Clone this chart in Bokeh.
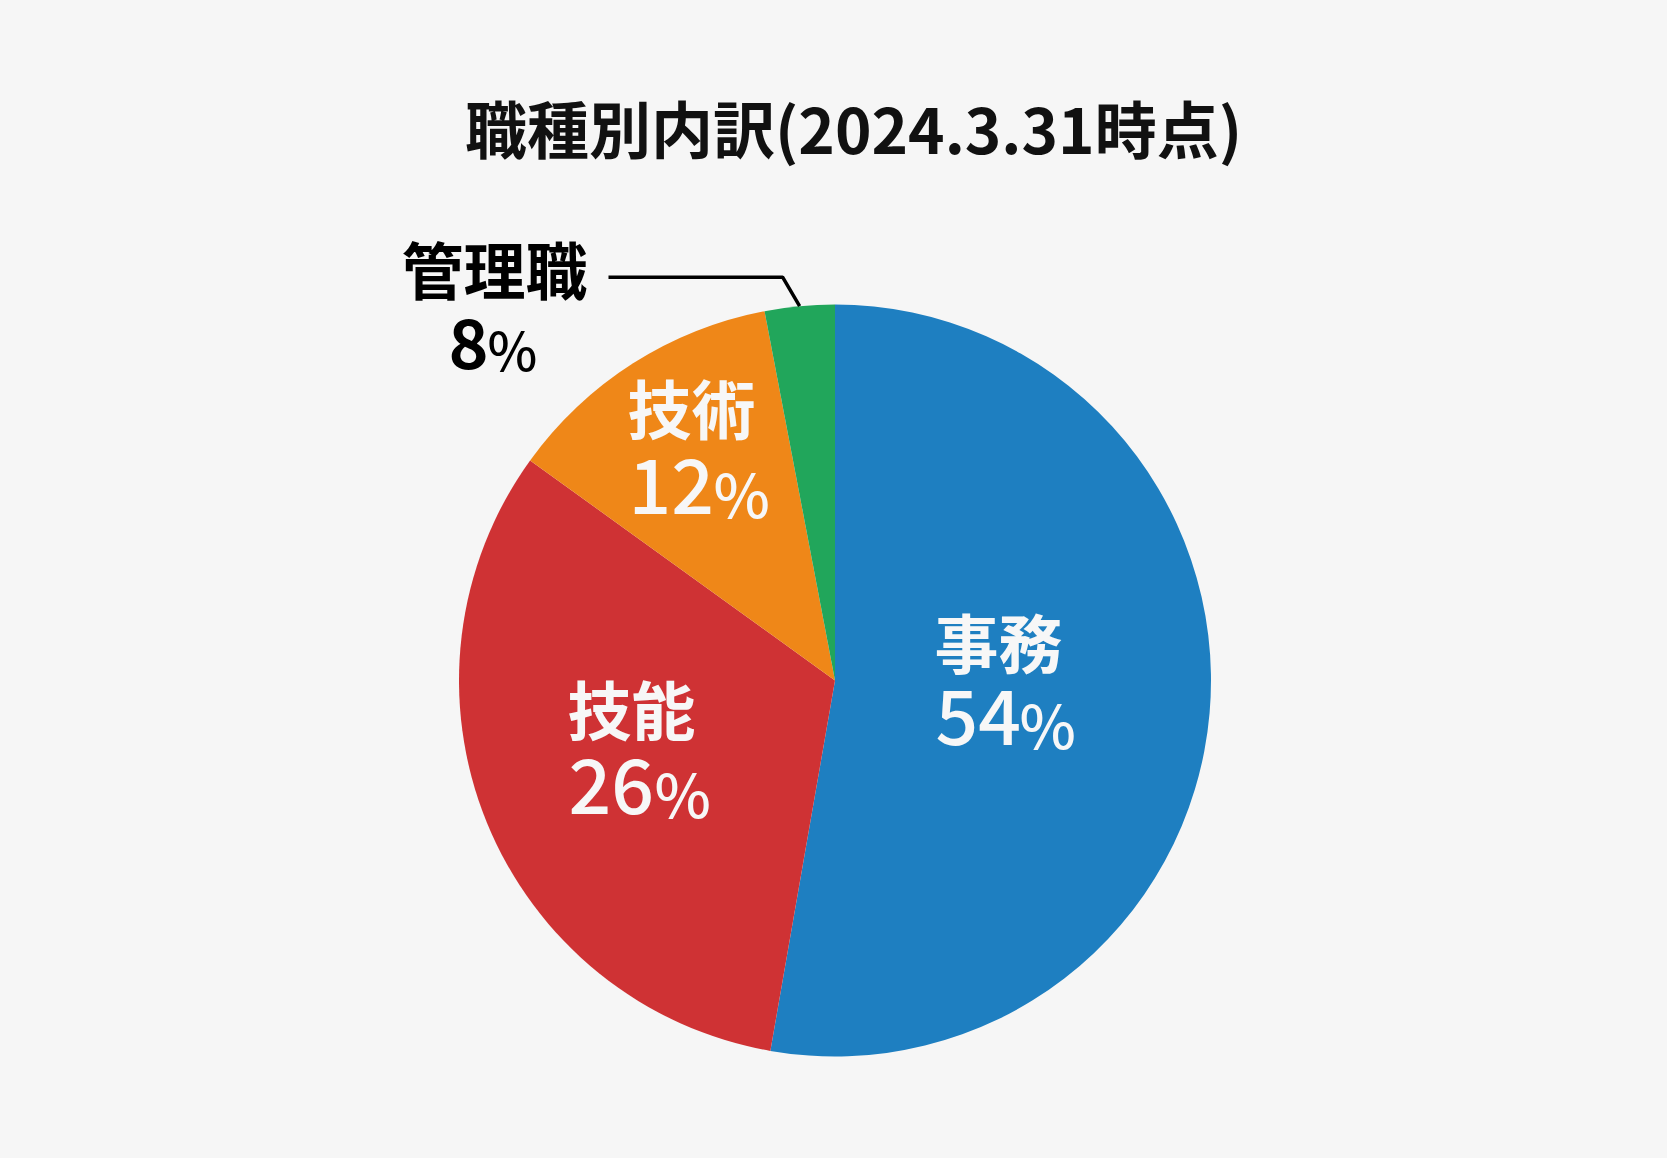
from math import pi, cos, sin

from bokeh.plotting import figure
from bokeh.models import ColumnDataSource, Range1d
from bokeh.core.properties import value
from bokeh.embed import file_html
from bokeh.resources import INLINE

# slice shares as drawn in the picture (the printed labels differ a bit)
categories = ["事務", "技能", "技術", "管理職"]
shares = [52.75, 32.2, 12.05, 3.0]
pct_numbers = ["54", "26", "12", "8"]
colors = ["#1e7fc1", "#cf3234", "#ef8718", "#21a65b"]
title_text = "職種別内訳(2024.3.31時点)"

BG = "#f6f6f6"
FONT = "Noto Sans CJK JP"
NUM_FONT = "Noto Sans CJK JP Medium"

# data units == screen pixels, y pointing up (y = -screen_y)
cx, cy, r = 834.5, -680, 376

start, end = [], []
acc = 0.0
for s in shares:
    start.append(pi / 2 - 2 * pi * acc / 100)
    acc += s
    end.append(pi / 2 - 2 * pi * acc / 100)

src = ColumnDataSource(dict(cat=categories, start=start, end=end, color=colors))

p = figure(width=1651, height=1142, output_backend="svg", toolbar_location=None,
           x_range=Range1d(0, 1651), y_range=Range1d(-1142, 0),
           x_axis_type=None, y_axis_type=None, min_border=0,
           background_fill_color=BG, border_fill_color=BG)
p.grid.visible = False
p.outline_line_color = None

p.wedge(x=cx, y=cy, radius=r, start_angle="start", end_angle="end",
        direction="clock", fill_color="color", line_color=None, source=src)

# title
p.text(x=[853], y=[-126], text=[title_text], text_font=value(FONT), text_font_style="bold",
       text_font_size="62px", text_color="#111111", text_align="center", text_baseline="middle")

# labels inside the slices: (left x, cjk centre y, number centre y, % left x)
inside = {
    "事務": (934, -639, -717, 1019),
    "技能": (567, -706, -786, 654),
    "技術": (627, -405, -486, 713),
}
for i, cat in enumerate(categories[:3]):
    lx, ly, ny, px = inside[cat]
    p.text(x=[lx], y=[ly], text=[cat], text_font=value(FONT), text_font_style="bold",
           text_font_size="64px", text_color="#f7f7f7", text_align="left", text_baseline="middle")
    p.text(x=[lx + 1], y=[ny], text=[pct_numbers[i]], text_font=value(NUM_FONT),
           text_font_size="75px", text_color="#f7f7f7", text_align="left", text_baseline="middle")
    p.text(x=[px], y=[ny - 5], text=["%"], text_font=value(NUM_FONT),
           text_font_size="60px", text_color="#f7f7f7", text_align="left", text_baseline="middle")

# 管理職: outside label with a leader line to the green slice
mid = (start[3] + end[3]) / 2
ex, ey = cx + r * cos(mid), cy + r * sin(mid)
p.line(x=[608, ex - 17, ex], y=[ey + 29, ey + 29, ey], line_color="#000000", line_width=3.5)

p.text(x=[494], y=[-267], text=[categories[3]], text_font=value(FONT), text_font_style="bold",
       text_font_size="62px", text_color="#000000", text_align="center", text_baseline="middle")
p.text(x=[488], y=[-343], text=[pct_numbers[3]], text_font=value(FONT), text_font_style="bold",
       text_font_size="68px", text_color="#000000", text_align="right", text_baseline="middle")
p.text(x=[487], y=[-347], text=["%"], text_font=value(NUM_FONT),
       text_font_size="53px", text_color="#000000", text_align="left", text_baseline="middle")

page = "{% block preamble %}<style>body{background:#f6f6f6;}</style>{% endblock %}"
open("out.html", "w").write(file_html(p, INLINE, template=page))
